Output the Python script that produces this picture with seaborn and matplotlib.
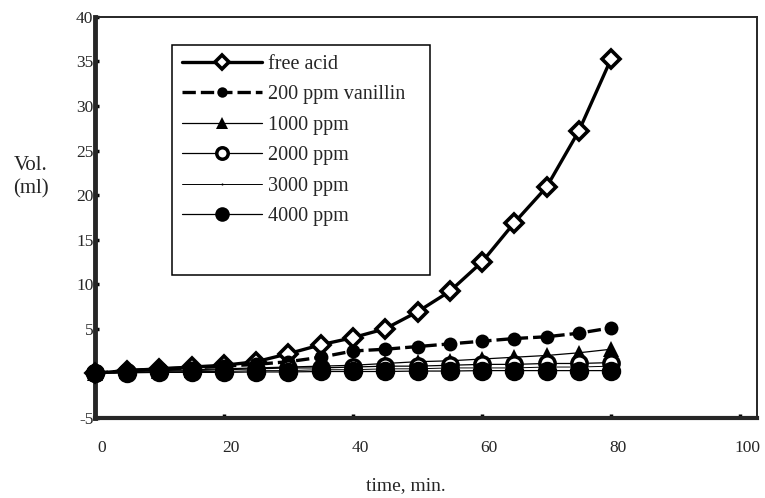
import numpy as np
import pandas as pd
import seaborn as sns
import matplotlib.pyplot as plt
import matplotlib.transforms as mtransforms
from matplotlib.patches import Rectangle

# time axis and volumes
time_min = [0, 5, 10, 15, 20, 25, 30, 35, 40, 45, 50, 55, 60, 65, 70, 75, 80]
free_acid = [0, 0.3, 0.5, 0.7, 0.9, 1.3, 2.2, 3.2, 4.0, 5.0, 6.9, 9.2, 12.5, 16.9, 20.9, 27.2, 35.3]
vanillin_200 = [0, 0.3, 0.5, 0.6, 0.8, 1.0, 1.3, 1.8, 2.5, 2.7, 3.0, 3.3, 3.6, 3.9, 4.1, 4.5, 5.1]
ppm_1000 = [0, 0.2, 0.3, 0.4, 0.5, 0.6, 0.7, 0.8, 0.9, 1.1, 1.3, 1.4, 1.6, 1.8, 2.0, 2.3, 2.7]
ppm_2000 = [0, 0.1, 0.2, 0.3, 0.4, 0.5, 0.6, 0.6, 0.7, 0.8, 0.8, 0.9, 1.0, 1.0, 1.1, 1.1, 1.2]
ppm_3000 = [0, 0.1, 0.1, 0.2, 0.2, 0.3, 0.3, 0.4, 0.4, 0.5, 0.5, 0.6, 0.6, 0.6, 0.7, 0.7, 0.8]
ppm_4000 = [0, 0.05, 0.1, 0.1, 0.1, 0.15, 0.15, 0.2, 0.2, 0.2, 0.25, 0.25, 0.3, 0.3, 0.3, 0.3, 0.3]

labels = ["free acid", "200 ppm vanillin", "1000 ppm", "2000 ppm", "3000 ppm", "4000 ppm"]
series = [free_acid, vanillin_200, ppm_1000, ppm_2000, ppm_3000, ppm_4000]

df = pd.DataFrame({"time": time_min * len(labels),
                   "vol": np.concatenate(series),
                   "sample": np.repeat(labels, len(time_min))})

sns.set_style("ticks")
plt.rcParams['font.family'] = ['Liberation Serif', 'DejaVu Serif']
plt.rcParams['axes.unicode_minus'] = False

# styles for each series
styles = {
    "free acid": dict(lw=2.4, ls="-", marker="D", ms=9, mfc="white", mec="black", mew=2.6),
    "200 ppm vanillin": dict(lw=2.4, ls=(0, (4, 1.5)), marker="o", ms=10, mfc="black", mec="black", mew=0),
    "1000 ppm": dict(lw=0.9, ls="-", marker="^", ms=11, mfc="black", mec="black", mew=0),
    "2000 ppm": dict(lw=0.9, ls="-", marker="o", ms=11, mfc="white", mec="black", mew=2.5),
    "3000 ppm": dict(lw=0.7, ls="-", marker=".", ms=4, mfc="black", mec="black", mew=0),
    "4000 ppm": dict(lw=0.9, ls="-", marker="o", ms=14, mfc="black", mec="black", mew=0),
}

fig = plt.figure(figsize=(7.65, 4.98), dpi=100)
ax = fig.add_axes([0.124, 0.161, 0.8655, 0.805])

for lab in labels:
    st = styles[lab]
    sub = df[df["sample"] == lab]
    sns.lineplot(data=sub, x="time", y="vol", ax=ax, color="black", label=lab,
                 linewidth=st["lw"], linestyle=st["ls"], marker=st["marker"],
                 markersize=st["ms"], markerfacecolor=st["mfc"],
                 markeredgecolor=st["mec"], markeredgewidth=st["mew"],
                 clip_on=False, zorder=3)

ax.set_xlim(0, 102.6)
ax.set_ylim(-5, 40)
ax.set_xticks([0, 20, 40, 60, 80, 100])
ax.set_yticks([-5, 5, 10, 15, 20, 25, 30, 35, 40])
ax.set_xlabel("")
ax.set_ylabel("")

for side in ["top", "right"]:
    ax.spines[side].set_visible(True)
    ax.spines[side].set_linewidth(1.4)
ax.spines["left"].set_linewidth(3.5)
ax.spines["bottom"].set_linewidth(3.0)

ax.tick_params(axis="both", direction="in", length=3, width=2.5, labelsize=12.5, color="black")
ax.tick_params(axis="x", pad=16)
ax.tick_params(axis="y", pad=1)
offset = mtransforms.ScaledTranslation(5 / 72, 0, fig.dpi_scale_trans)
for t in ax.get_xticklabels():
    t.set_transform(t.get_transform() + offset)

# legend, frame drawn separately to leave the empty space at the bottom
leg = ax.legend(loc="upper left", bbox_to_anchor=(0.131, 0.905), frameon=False,
                fontsize=14.5, handlelength=4.0, handletextpad=0.3, labelspacing=0.56,
                borderpad=0, borderaxespad=0, markerscale=0.75)
ax.add_patch(Rectangle((0.116, 0.357), 0.39, 0.573, transform=ax.transAxes,
                       fill=False, edgecolor="black", linewidth=1.1, zorder=5))

fig.text(0.04, 0.645, "Vol.\n(ml)", fontsize=15, ha="center", va="center", linespacing=1.3)
fig.text(0.53, 0.008, "time, min.", fontsize=14, ha="center", va="bottom")

fig.savefig("out.png", dpi=100)
